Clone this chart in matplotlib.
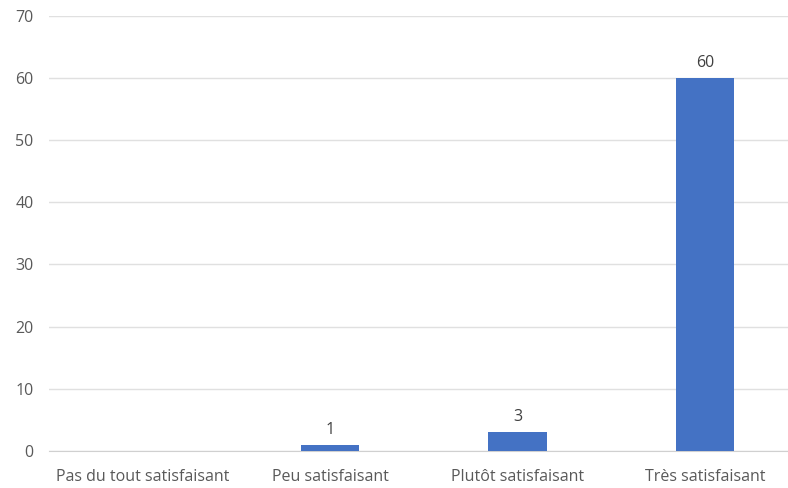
import matplotlib.pyplot as plt

categories = ["Pas du tout satisfaisant", "Peu satisfaisant", "Plutôt satisfaisant", "Très satisfaisant"]
values = [0, 1, 3, 60]
labels = ["", "1", "3", "60"]

plt.rcParams["font.family"] = ["Open Sans", "DejaVu Sans"]

fig = plt.figure(figsize=(7.88, 4.88), dpi=100)
ax = fig.add_axes([48.75 / 788, 37 / 488, 750 / 788, 435.3 / 488])

x = range(len(categories))
bars = ax.bar(x, values, width=0.31, color="#4472C4", zorder=3)

for bar, lab in zip(bars, labels):
    if lab:
        ax.annotate(lab, (bar.get_x() + bar.get_width() / 2, bar.get_height()),
                    xytext=(0, 5), textcoords="offset points",
                    ha="center", va="bottom", fontsize=11.5, color="#404040")

ax.set_xlim(-0.5, 3.5)
ax.set_ylim(0, 70)
ax.set_yticks(range(0, 71, 10))
ax.set_xticks(list(x))
ax.set_xticklabels(categories)

ax.grid(axis="y", color="#e0e0e0", linewidth=1, zorder=0)
for s in ["top", "right", "left"]:
    ax.spines[s].set_visible(False)
ax.spines["bottom"].set_color("#d0d0d0")
ax.tick_params(axis="both", length=0, labelsize=11.5, colors="#595959")
ax.tick_params(axis="y", pad=11)
ax.tick_params(axis="x", pad=13)

fig.savefig("out.png", dpi=100)
